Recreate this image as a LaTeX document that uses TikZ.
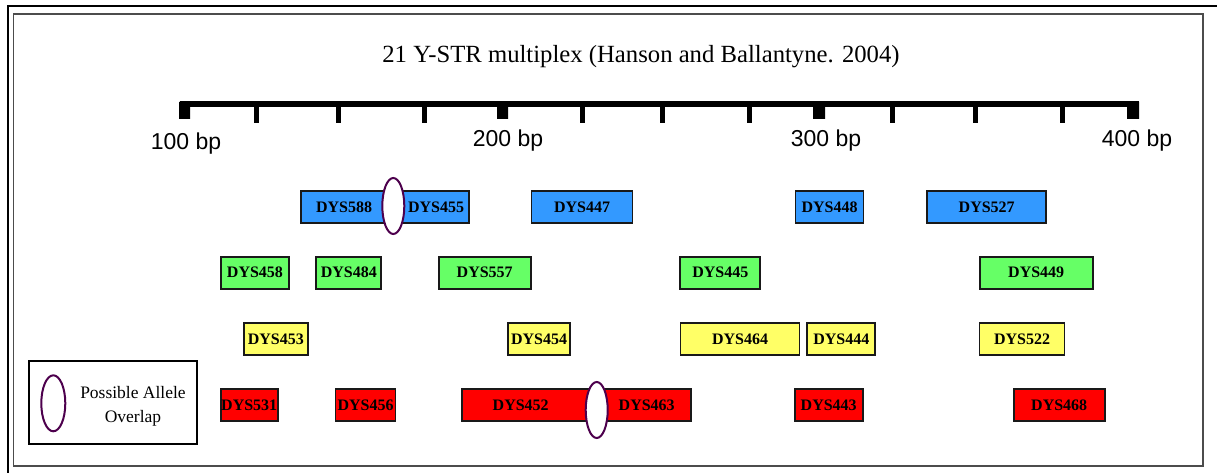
\documentclass[tikz,border=0pt]{standalone}
\usepackage{fontspec}
\usetikzlibrary{shapes.geometric}
\setmainfont{Liberation Serif}
\setsansfont{Liberation Sans}
\definecolor{dyeblue}{HTML}{3399FF}
\definecolor{dyegreen}{HTML}{66FF66}
\definecolor{dyeyellow}{HTML}{FFFF66}
\definecolor{dyered}{HTML}{FF0000}
\definecolor{overlap}{HTML}{800080}
\begin{document}
\begin{tikzpicture}[x=1pt,y=-1pt,
	locus/.style={draw=black!90,line width=1.7pt,inner sep=0pt,minimum height=32,
		font=\fontsize{16}{18}\selectfont\bfseries},
	bluebox/.style={locus,fill=dyeblue},
	greenbox/.style={locus,fill=dyegreen},
	yellowbox/.style={locus,fill=dyeyellow},
	redbox/.style={locus,fill=dyered},
	boxtext/.style={inner sep=0pt,font=\fontsize{16}{18}\selectfont\bfseries},
	overlapmark/.style={ellipse,draw=overlap!60!black,fill=white,line width=2pt,minimum width=22,minimum height=56,inner sep=0pt},
	bplabel/.style={font=\sffamily\fontsize{23}{26}\selectfont,anchor=base}]
	\useasboundingbox (0,0) rectangle (1217,473);
	% frames
	\draw[line width=2pt] (8,480)--(8,6)--(1225,6);
	\draw[black!70,line width=1.8pt] (13.5,14) rectangle (1203,466);
	% title
	\node[font=\fontsize{24.7}{28}\selectfont,anchor=base] (title) at (641,63) {21 Y-STR multiplex (Hanson and Ballantyne. 2004)};
	% scale
	\draw[line width=6pt] (180,104)--(1139,104);
	\fill (179,102) rectangle (190,119) (497,102) rectangle (508,119)
		(813,102) rectangle (825,119) (1127,102) rectangle (1139,119);
	\draw[line width=5pt] (256,104)--(256,123) (338,104)--(338,123) (424,104)--(424,123)
		(582,104)--(582,123) (662,104)--(662,123) (749,104)--(749,123)
		(892,104)--(892,123) (975,104)--(975,123) (1062,104)--(1062,123);
	\node[bplabel] (bp100) at (186,150) {100 bp};
	\node[bplabel] (bp200) at (508,147) {200 bp};
	\node[bplabel] (bp300) at (826,147) {300 bp};
	\node[bplabel] (bp400) at (1137,147) {400 bp};
	% blue
	\node[bluebox,minimum width=92] (dys588) at (347,207.3) {};
	\node[bluebox,minimum width=76] (dys455) at (431,207.3) {};
	\node[boxtext] (t588) at (344,207.3) {DYS588};
	\node[boxtext] (t455) at (436,207.3) {DYS455};
	\node[overlapmark] (ov1) at (393.3,206) {};
	\node[bluebox,minimum width=101] (dys447) at (582,207.3) {DYS447};
	\node[bluebox,minimum width=68] (dys448) at (829.5,207.3) {DYS448};
	\node[bluebox,minimum width=119] (dys527) at (986.7,207.3) {DYS527};
	% green
	\node[greenbox,minimum width=68] (dys458) at (255,272.7) {DYS458};
	\node[greenbox,minimum width=65] (dys484) at (348.8,272.7) {DYS484};
	\node[greenbox,minimum width=92] (dys557) at (484.7,272.7) {DYS557};
	\node[greenbox,minimum width=80] (dys445) at (720.3,272.7) {DYS445};
	\node[greenbox,minimum width=113] (dys449) at (1036.2,272.7) {DYS449};
	% yellow
	\node[yellowbox,minimum width=64] (dys453) at (275.8,339) {DYS453};
	\node[yellowbox,minimum width=62] (dys454) at (539,339) {DYS454};
	\node[yellowbox,minimum width=119] (dys464) at (740,339) {DYS464};
	\node[yellowbox,minimum width=68] (dys444) at (841.3,339) {DYS444};
	\node[yellowbox,minimum width=85] (dys522) at (1022,339) {DYS522};
	% red
	\node[redbox,minimum width=57] (dys531) at (249.2,405.3) {DYS531};
	\node[redbox,minimum width=60] (dys456) at (365.5,405.3) {DYS456};
	\node[redbox,minimum width=134] (dys452) at (529.2,405.3) {};
	\node[redbox,minimum width=94] (dys463) at (643.9,405.3) {};
	\node[boxtext] (t452) at (520.7,405.3) {DYS452};
	\node[boxtext] (t463) at (646.7,405.3) {DYS463};
	\node[overlapmark] (ov2) at (596.7,410) {};
	\node[redbox,minimum width=68] (dys443) at (828.7,405.3) {DYS443};
	\node[redbox,minimum width=91] (dys468) at (1059.2,405.3) {DYS468};
	% legend
	\node[draw,line width=1.8pt,minimum width=168,minimum height=83] (legend) at (112.8,402.5) {};
	\node[overlapmark,minimum width=24,minimum height=56] (ovkey) at (53.3,403.3) {};
	\node[align=center,font=\fontsize{17.5}{23.5}\selectfont] (keytext) at (133,406.5) {Possible Allele\\Overlap};
\end{tikzpicture}
\end{document}
